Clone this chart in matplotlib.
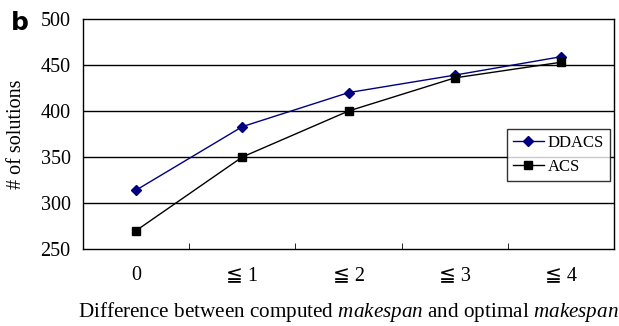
import matplotlib.pyplot as plt

# Data
categories = ["0", "\u2266 1", "\u2266 2", "\u2266 3", "\u2266 4"]
ddacs = [314, 383, 420, 439, 459]
acs = [270, 350, 400, 436, 453]
y_ticks = [250, 300, 350, 400, 450, 500]

plt.rcParams['font.family'] = ['Liberation Serif', 'DejaVu Sans', 'Noto Sans CJK JP']
plt.rcParams['mathtext.fontset'] = 'custom'
plt.rcParams['mathtext.it'] = 'Liberation Serif:italic'
plt.rcParams['mathtext.rm'] = 'Liberation Serif'

fig = plt.figure(figsize=(6.19, 3.26), dpi=100)
ax = fig.add_axes([0.1341, 0.2362, 0.858, 0.7055])

x = list(range(len(categories)))
ax.plot(x, ddacs, color='#000080', marker='D', markersize=5, lw=1, label='DDACS', zorder=3)
ax.plot(x, acs, color='black', marker='s', markersize=6, lw=1, label='ACS', zorder=3)

ax.set_xlim(-0.5, len(categories) - 0.5)
ax.set_ylim(250, 500)
ax.set_yticks(y_ticks)
ax.set_yticklabels([str(v) for v in y_ticks], fontsize=14.5)
ax.tick_params(axis='y', length=0, pad=9)
for v in y_ticks[1:-1]:
    ax.axhline(v, color='black', lw=1, zorder=1)

ax.set_xticks(x)
ax.set_xticklabels(categories, fontsize=14.5)
ax.set_xticks([i + 0.5 for i in x[:-1]], minor=True)
ax.tick_params(axis='x', which='major', length=0, pad=12)
ax.tick_params(axis='x', which='minor', direction='in', length=4, color='black')

for s in ax.spines.values():
    s.set_color('black')
    s.set_linewidth(1)

ax.set_ylabel("# of solutions", fontsize=14.5, labelpad=10)
ax.set_xlabel("Difference between computed $\\it{makespan}$ and optimal $\\it{makespan}$",
              fontsize=15.2, labelpad=11)

leg = ax.legend(loc='upper left', bbox_to_anchor=(0.798, 0.522), fontsize=12,
                frameon=True, fancybox=False, edgecolor='black', handlelength=1.9,
                borderpad=0.35, labelspacing=0.5, handletextpad=0.2, borderaxespad=0)
leg.get_frame().set_linewidth(1)

fig.text(0.018, 0.965, "b", fontsize=18, fontweight='bold', family='DejaVu Sans', va='top')

fig.savefig("out.png", dpi=100)
